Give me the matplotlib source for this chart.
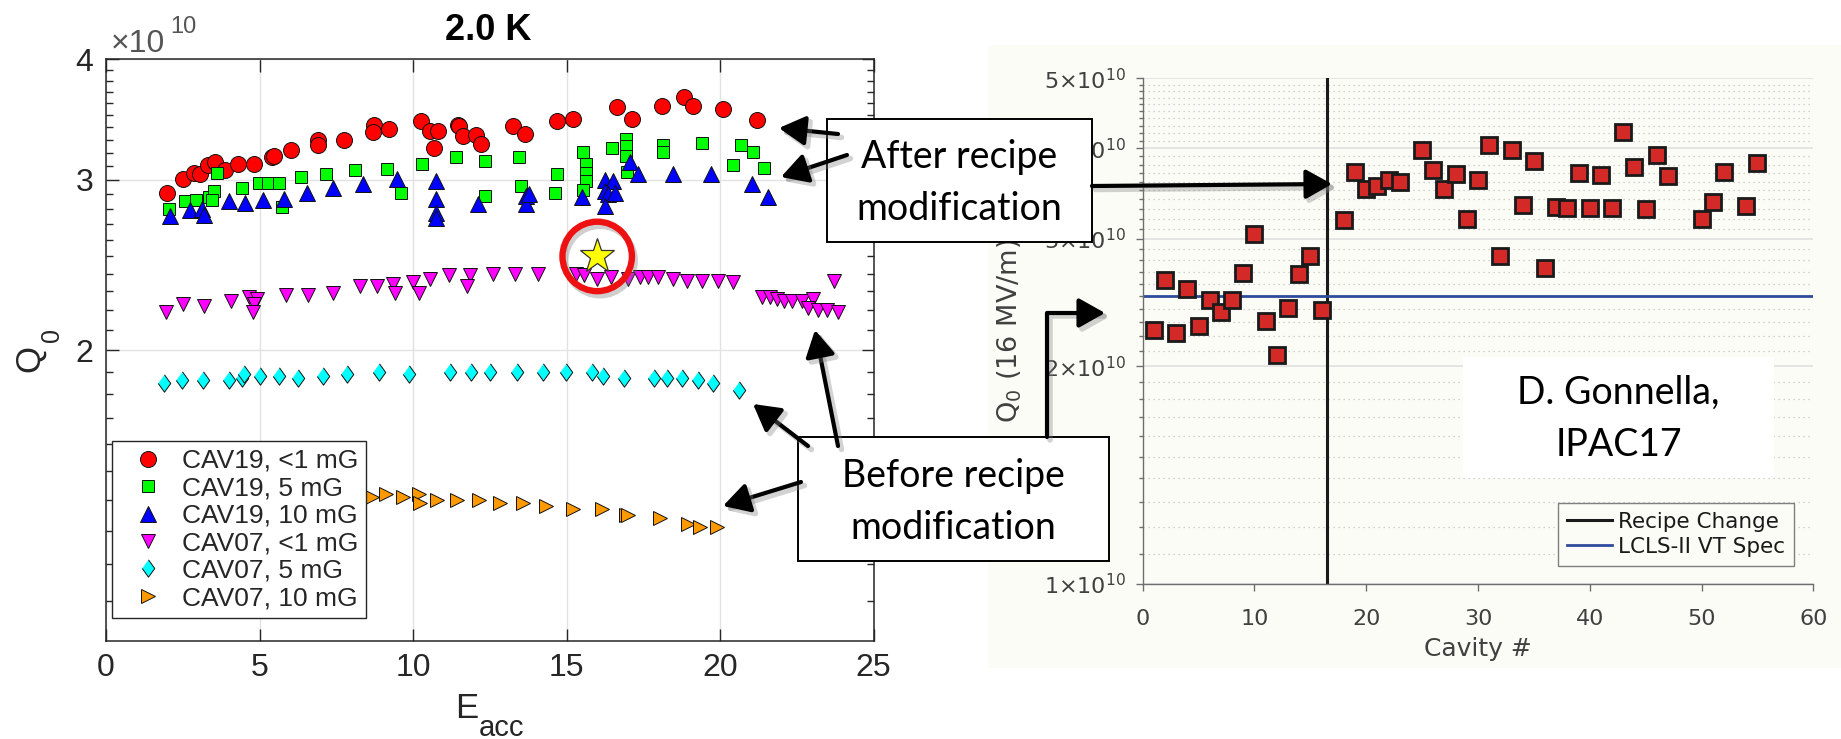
import numpy as np
import matplotlib
matplotlib.use("Agg")
import matplotlib.pyplot as plt
from matplotlib.patches import Rectangle, FancyArrowPatch
import matplotlib.patheffects as pe
from matplotlib.ticker import FixedLocator, NullFormatter, FuncFormatter

plt.rcParams["font.family"] = ["Liberation Sans", "DejaVu Sans"]

W, H, DPI = 1841, 739, 100

# ---------------- left panel: Q0 vs Eacc at 2.0 K (Q0 in units of 1e10) ----------------
cav19_1mg_e = [2.0, 2.51, 2.87, 3.05, 3.33, 3.54, 3.86, 4.31, 4.83, 5.41, 5.48, 6.02, 6.89, 6.89,
               7.75, 8.74, 8.71, 9.22, 10.27, 10.57, 10.83, 10.70, 11.47, 11.49, 11.62, 12.05,
               12.20, 13.27, 13.65, 14.70, 15.22, 16.66, 17.12, 18.10, 18.83, 19.13, 20.09, 21.2]
cav19_1mg_q = [2.91, 3.01, 3.05, 3.04, 3.11, 3.13, 3.07, 3.12, 3.12, 3.17, 3.18, 3.22, 3.30, 3.26,
               3.30, 3.42, 3.36, 3.39, 3.45, 3.37, 3.37, 3.24, 3.42, 3.41, 3.33, 3.34,
               3.27, 3.41, 3.35, 3.45, 3.47, 3.57, 3.47, 3.58, 3.66, 3.58, 3.55, 3.46]

cav19_5mg_e = [2.06, 2.56, 2.93, 3.34, 3.51, 3.44, 3.61, 4.43, 4.99, 5.28, 5.63, 5.73, 6.34, 7.18,
               8.11, 9.15, 9.60, 10.30, 11.39, 12.36, 12.36, 13.45, 13.52, 14.70, 14.63, 15.55,
               15.64, 15.64, 15.64, 15.55, 16.47, 16.94, 16.94, 16.94, 16.96, 18.15, 18.15, 19.42,
               20.43, 20.67, 21.08, 21.44]
cav19_5mg_q = [2.80, 2.85, 2.86, 2.88, 2.92, 2.86, 3.05, 2.94, 2.98, 2.98, 2.98, 2.81, 3.02, 3.04,
               3.07, 3.08, 2.91, 3.12, 3.17, 3.14, 2.89, 3.17, 2.96, 3.04, 2.91, 3.21,
               3.12, 3.05, 2.99, 2.93, 3.24, 3.31, 3.25, 3.18, 3.06, 3.26, 3.21, 3.28,
               3.11, 3.26, 3.21, 3.09]

cav19_10mg_e = [2.1, 2.73, 3.12, 3.2, 4.01, 4.53, 5.11, 5.79, 6.55, 7.4, 8.38, 9.48, 10.75, 10.75,
                10.75, 10.75, 12.13, 13.69, 13.69, 13.77, 15.52, 16.25, 16.52, 16.25, 16.36, 16.25,
                16.58, 17.06, 17.34, 18.48, 19.70, 21.03, 21.55]
cav19_10mg_q = [2.75, 2.79, 2.80, 2.76, 2.85, 2.84, 2.86, 2.87, 2.91, 2.94, 2.97, 3.01, 2.99, 2.87,
                2.77, 2.74, 2.83, 2.89, 2.83, 2.90, 2.88, 3.00, 2.99, 2.92, 2.90, 2.82,
                2.91, 3.13, 3.04, 3.04, 3.04, 2.97, 2.88]

cav07_1mg_e = [1.94, 2.5, 3.2, 4.06, 4.67, 4.91, 4.82, 4.78, 5.85, 6.59, 7.40, 8.27, 8.82, 9.36,
               9.41, 9.99, 10.21, 10.55, 11.18, 11.86, 11.75, 12.62, 13.32, 14.06, 15.3, 15.57,
               16.0, 16.44, 17.01, 17.39, 17.66, 17.99, 18.46, 18.94, 19.42, 19.94, 20.43, 21.38,
               21.63, 21.85, 22.08, 22.33, 22.66, 23.04, 22.88, 23.20, 23.48, 23.85, 23.71]
cav07_1mg_q = [2.19, 2.23, 2.22, 2.25, 2.27, 2.26, 2.23, 2.19, 2.28, 2.28, 2.29, 2.33, 2.33, 2.34,
               2.29, 2.35, 2.29, 2.37, 2.39, 2.39, 2.33, 2.40, 2.40, 2.40, 2.40, 2.39,
               2.37, 2.38, 2.37, 2.38, 2.38, 2.38, 2.37, 2.36, 2.36, 2.36, 2.35, 2.27,
               2.27, 2.26, 2.25, 2.25, 2.25, 2.26, 2.21, 2.20, 2.20, 2.19, 2.36]

cav07_5mg_e = [1.90, 2.47, 3.15, 4.02, 4.42, 4.50, 5.0, 5.64, 6.26, 7.08, 7.86, 8.90, 9.88, 11.21,
               11.89, 12.51, 13.38, 14.22, 14.98, 15.84, 16.2, 16.87, 17.85, 18.28, 18.77, 19.29,
               19.78, 20.62]
cav07_5mg_q = [1.85, 1.86, 1.86, 1.86, 1.87, 1.89, 1.88, 1.88, 1.87, 1.88, 1.89, 1.90, 1.89, 1.90,
               1.90, 1.90, 1.90, 1.90, 1.90, 1.90, 1.88, 1.87, 1.87, 1.87, 1.87, 1.86,
               1.85, 1.82]

cav07_10mg_e = [8.65, 9.12, 9.69, 10.21, 10.23, 10.79, 11.44, 12.15, 12.83, 13.57, 14.33, 15.22,
                16.15, 16.95, 17.01, 18.05, 18.97, 19.35, 19.89]
cav07_10mg_q = [1.41, 1.42, 1.41, 1.42, 1.39, 1.40, 1.40, 1.40, 1.39, 1.39, 1.38, 1.37,
                1.37, 1.35, 1.35, 1.34, 1.32, 1.31, 1.31]

highlight_e, highlight_q = 16.0, 2.50

series_labels = ["CAV19, <1 mG", "CAV19, 5 mG", "CAV19, 10 mG",
                 "CAV07, <1 mG", "CAV07, 5 mG", "CAV07, 10 mG"]

# ---------------- right panel: Q0 at 16 MV/m per cavity (units of 1e10) ----------------
cavity_no = list(range(1, 17)) + [18, 19, 20, 21, 22, 23] + list(range(25, 48)) + [50, 51, 52, 54, 55]
q0_16 = [2.245, 2.63, 2.22, 2.56, 2.27, 2.47, 2.38, 2.47, 2.69, 3.05, 2.31, 2.07, 2.41, 2.68, 2.84, 2.39,
         3.19, 3.71, 3.51, 3.55, 3.62, 3.59,
         3.98, 3.74, 3.51, 3.69, 3.20, 3.62, 4.04, 2.84, 3.98, 3.34, 3.84, 2.73, 3.32, 3.31, 3.70,
         3.31, 3.68, 3.31, 4.21, 3.77, 3.30, 3.92, 3.66,
         3.20, 3.37, 3.71, 3.33, 3.82]
recipe_change_at = 16.5
vt_spec = 2.5


def fx(x):
    return x / W


def fy(y):
    return 1 - y / H


fig = plt.figure(figsize=(W / DPI, H / DPI), dpi=DPI)
fig.patch.set_facecolor("white")

# cream backdrop of the cavity-survey panel
fig.add_artist(Rectangle((fx(988), fy(668)), (1841 - 988) / W, (668 - 45) / H,
                         transform=fig.transFigure, facecolor="#fcfcf7", edgecolor="none", zorder=-1))

# ======================= left axes =======================
ax1 = fig.add_axes([fx(106), fy(640.7), (873.5 - 106) / W, (640.7 - 59.3) / H])
ax1.set_yscale("log")
ax1.set_xlim(0, 25)
ax1.set_ylim(1e10, 4e10)

styles = [
    (cav19_1mg_e, cav19_1mg_q, "o", 11.5, "#ff0000"),
    (cav19_5mg_e, cav19_5mg_q, "s", 9.0, "#00ff00"),
    (cav19_10mg_e, cav19_10mg_q, "^", 11.5, "#0000ff"),
    (cav07_1mg_e, cav07_1mg_q, "v", 10.5, "#ff00ff"),
    (cav07_5mg_e, cav07_5mg_q, [(0, 1), (0.72, 0), (0, -1), (-0.72, 0)], 12.5, "#00ffff"),
    (cav07_10mg_e, cav07_10mg_q, ">", 9.5, "#ff9900"),
]
for (e, q, m, ms, c), lab in zip(styles, series_labels):
    ax1.plot(e, np.array(q) * 1e10, ls="none", marker=m, ms=ms, mfc=c, mec="#111111",
             mew=0.7, label=lab, zorder=3)

ax1.plot([highlight_e], [highlight_q * 1e10], ls="none", marker="*", ms=26, mfc="#ffff00",
         mec="#333333", mew=0.9, zorder=5)
ax1.plot([highlight_e], [highlight_q * 1e10], ls="none", marker="o", ms=50, mfc="none",
         mec="#ee1111", mew=4.6, zorder=6, clip_on=False,
         path_effects=[pe.SimpleLineShadow(offset=(2, -3), shadow_color="#777777", alpha=0.35),
                       pe.Normal()])

ax1.set_xticks([0, 5, 10, 15, 20, 25])
ax1.yaxis.set_major_locator(FixedLocator([2e10, 3e10, 4e10]))
ax1.yaxis.set_major_formatter(FuncFormatter(lambda v, p: "%d" % round(v / 1e10)))
ax1.yaxis.set_minor_locator(FixedLocator([k * 1e9 for k in range(11, 40) if k % 10]))
ax1.yaxis.set_minor_formatter(NullFormatter())
ax1.tick_params(which="both", direction="in", top=True, right=True, color="#262626",
                labelcolor="#262626", labelsize=23, width=1)
ax1.tick_params(which="major", length=9, pad=9)
ax1.tick_params(which="minor", length=5)
ax1.tick_params(axis="x", which="minor", top=False, bottom=False)
for s in ax1.spines.values():
    s.set_color("#262626")
    s.set_linewidth(1.1)
ax1.grid(True, which="major", color="#e2e2e2", lw=1)
ax1.set_axisbelow(True)

leg1 = ax1.legend(loc="upper left", bbox_to_anchor=((112 - 106) / 767.5, (640.7 - 441) / 581.4),
                  borderaxespad=0, fontsize=19, fancybox=False, edgecolor="#262626",
                  framealpha=1, labelspacing=0.13, handlelength=2.1, handletextpad=0.25,
                  borderpad=0.3, numpoints=1)
leg1.get_frame().set_linewidth(1)
for t in leg1.get_texts():
    t.set_color("#262626")

fig.text(fx(488.5), fy(40), "2.0 K", fontsize=26, fontweight="bold", ha="center", va="baseline")
fig.text(fx(111), fy(52), "\u00d710", fontsize=23, color="#555555", ha="left", va="baseline")
fig.text(fx(170), fy(33), "10", fontsize=17, color="#555555", ha="left", va="baseline")
fig.text(fx(30), fy(358), "Q", fontsize=25, rotation=90, ha="center", va="center", color="#262626")
fig.text(fx(52), fy(335.5), "0", fontsize=18, rotation=90, ha="center", va="center", color="#262626")
fig.text(fx(455), fy(718), "E", fontsize=25, ha="left", va="baseline", color="#262626")
fig.text(fx(479), fy(736), "acc", fontsize=21, ha="left", va="baseline", color="#262626")

# ======================= right axes =======================
ax2 = fig.add_axes([fx(1142.7), fy(584), (1813.3 - 1142.7) / W, (584 - 78.3) / H])
ax2.set_facecolor("#fcfcf7")
ax2.set_yscale("log")
ax2.set_xlim(0, 60)
ax2.set_ylim(1e10, 5e10)
ax2.axvline(recipe_change_at, color="#1a1a1a", lw=2.2, label="Recipe Change", zorder=2)
ax2.axhline(vt_spec * 1e10, color="#2f4b9b", lw=2.0, label="LCLS-II VT Spec", zorder=2)
ax2.plot(cavity_no, np.array(q0_16) * 1e10, ls="none", marker="s", ms=11.5, mfc="#d42a27",
         mec="#1a1a1a", mew=2.0, zorder=3, label="_nolegend_")

ax2.set_xticks(range(0, 61, 10))
ax2.yaxis.set_major_locator(FixedLocator([k * 1e10 for k in range(1, 6)]))
ax2.yaxis.set_major_formatter(FuncFormatter(
    lambda v, p: r"$\mathregular{%d{\times}10^{10}}$" % round(v / 1e10)))
ax2.yaxis.set_minor_locator(FixedLocator([k * 1e9 for k in range(11, 50) if k % 10]))
ax2.yaxis.set_minor_formatter(NullFormatter())
ax2.tick_params(which="both", direction="out", color="#6e6e6e", labelcolor="#404040",
                labelsize=16, labelfontfamily="DejaVu Sans", width=1)
ax2.tick_params(axis="x", which="major", length=5, pad=13)
ax2.tick_params(axis="y", which="major", length=5.3, pad=7)
ax2.tick_params(axis="y", which="minor", length=3)
for k in ("top", "right"):
    ax2.spines[k].set_visible(False)
for k in ("left", "bottom"):
    ax2.spines[k].set_color("#6e6e6e")
    ax2.spines[k].set_linewidth(1)
ax2.grid(True, axis="y", which="major", color="#e0e0e0", lw=1.2)
ax2.grid(True, axis="y", which="minor", color="#c4c4c4", lw=0.9, ls=(0, (1, 3)))
ax2.set_axisbelow(True)

ax2.set_xlabel("Cavity #", fontsize=18, color="#404040", family="DejaVu Sans")
ax2.xaxis.set_label_coords(0.5, -0.105)
ax2.set_ylabel(r"$\mathregular{Q_0}$ (16 MV/m)", fontsize=19.5, color="#404040", family="DejaVu Sans")
ax2.yaxis.set_label_coords(-0.177, 0.5)

leg2 = ax2.legend(loc="upper right",
                  bbox_to_anchor=((1794 - 1142.7) / 670.6, (584 - 503) / 505.7),
                  borderaxespad=0, prop={"family": "DejaVu Sans", "size": 15.5}, fancybox=False,
                  edgecolor="#7f7f7f", facecolor="#fcfcf7", framealpha=1, handlelength=2.1,
                  handletextpad=0.3, labelspacing=0.25, borderpad=0.4)
leg2.get_frame().set_linewidth(1)
for t in leg2.get_texts():
    t.set_color("#1a1a1a")

# ======================= call-out boxes and arrows =======================
def callout(x0, y0, x1, y1, lines, baselines, edge=True):
    fig.add_artist(Rectangle((fx(x0), fy(y1)), (x1 - x0) / W, (y1 - y0) / H,
                             transform=fig.transFigure, facecolor="white",
                             edgecolor="black" if edge else "none", lw=1.4, zorder=20))
    for t, b in zip(lines, baselines):
        fig.text(fx((x0 + x1) / 2), fy(b), t, fontsize=27, family="Lato", ha="center",
                 va="baseline", color="black", zorder=21)


def arrow(tail, head, conn="arc3"):
    a = FancyArrowPatch((fx(tail[0]), fy(tail[1])), (fx(head[0]), fy(head[1])),
                        transform=fig.transFigure, connectionstyle=conn,
                        arrowstyle="-|>,head_length=0.8,head_width=0.45", mutation_scale=20,
                        lw=3.0, color="black", shrinkA=0, shrinkB=0, zorder=22,
                        path_effects=[pe.SimpleLineShadow(offset=(2.5, -2.5), shadow_color="#808080",
                                                          alpha=0.35, linewidth=4),
                                      pe.Normal()])
    fig.add_artist(a)


callout(827, 119, 1092, 242, ["After recipe", "modification"], [168, 220])
callout(798, 437, 1109, 561, ["Before recipe", "modification"], [487, 539])
callout(1463, 357, 1774, 478, ["D. Gonnella,", "IPAC17"], [404, 456], edge=False)

arrow((838, 134), (779, 128))
arrow((847, 155), (781, 177))
arrow((1092, 186), (1332, 184))
arrow((808, 446), (753, 404))
arrow((801, 482), (723, 506))
arrow((838, 446), (815, 330))
arrow((1047, 437), (1105, 313), conn="angle,angleA=90,angleB=0,rad=0")

fig.savefig("out.png", dpi=DPI, facecolor="white")
